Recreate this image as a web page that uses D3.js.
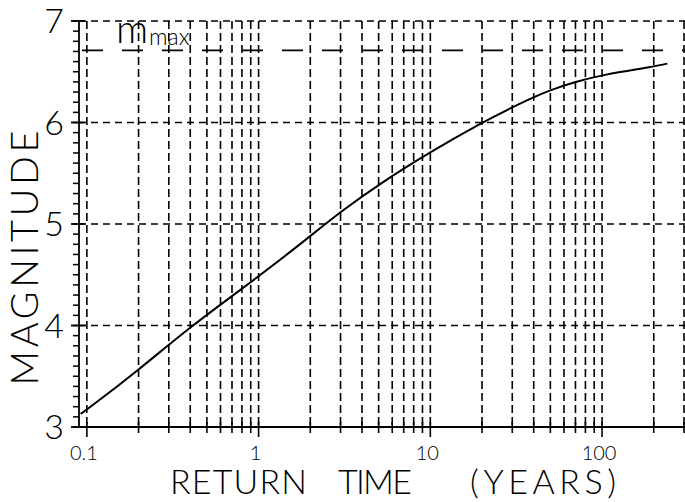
<!DOCTYPE html>
<html>
<head>
<meta charset="utf-8">
<script src="https://cdn.jsdelivr.net/npm/d3@7"></script>
<style>
  body { margin: 0; background: #fff; }
  svg { display: block; }
  text { font-family: "Lato", "DejaVu Sans", sans-serif; font-weight: 300; fill: #000; }
</style>
</head>
<body>
<svg id="chart" width="685" height="502"></svg>
<script>
// return time (years) vs magnitude
var returnTime = [0.092, 0.1, 0.2, 0.4, 1, 2, 3, 5, 10, 20, 30, 40, 50, 70, 100, 200, 240];
var magnitude  = [3.13, 3.17, 3.56, 3.99, 4.48, 4.88, 5.12, 5.39, 5.71, 6.00, 6.15, 6.25, 6.32, 6.40, 6.47, 6.55, 6.58];

var mMax = 6.71;

// grid / tick positions
var xGrid = [0.1, 0.2, 0.3, 0.4, 0.5, 0.6, 0.7, 0.8, 0.9,
             1, 2, 3, 4, 5, 6, 7, 8, 9,
             10, 20, 30, 40, 50, 60, 70, 80, 90,
             100, 200, 300];
var xMajor = [0.1, 1, 10, 100];
var xLabels = ["0.1", "1", "10", "100"];
var yMajor = [3, 4, 5, 6, 7];
var yLabels = ["3", "4", "5", "6", "7"];
var yMinor = d3.range(30, 71).map(function (d) { return d / 10; });

var svg = d3.select("#chart");

var x = d3.scaleLog().domain([0.09, 300]).range([79, 684]);
var y = d3.scaleLinear().domain([3, 7]).range([427, 21]);

// vertical dashed grid
svg.append("g").selectAll("line")
    .data(xGrid)
    .enter().append("line")
    .attr("x1", d => x(d)).attr("x2", d => x(d))
    .attr("y1", y(7)).attr("y2", y(3))
    .attr("stroke", "#000")
    .attr("stroke-width", 1.6)
    .attr("stroke-dasharray", "8,4");

// horizontal dashed grid
svg.append("g").selectAll("line")
    .data(yMajor.slice(1))
    .enter().append("line")
    .attr("x1", x(0.09)).attr("x2", 685)
    .attr("y1", d => y(d)).attr("y2", d => y(d))
    .attr("stroke", "#000")
    .attr("stroke-width", 1.6)
    .attr("stroke-dasharray", "7,5");

// m_max line
svg.append("line")
    .attr("x1", 82).attr("x2", 685)
    .attr("y1", y(mMax)).attr("y2", y(mMax))
    .attr("stroke", "#000")
    .attr("stroke-width", 1.8)
    .attr("stroke-dasharray", "21,19");

svg.append("text")
    .attr("x", 116).attr("y", 43)
    .style("font-size", "40px")
    .text("m");
svg.append("text")
    .attr("x", 149).attr("y", 45)
    .style("font-size", "23px")
    .text("max");

// axes lines
svg.append("line")
    .attr("x1", x(0.09)).attr("x2", x(0.09))
    .attr("y1", y(7)).attr("y2", y(3))
    .attr("stroke", "#000").attr("stroke-width", 1.8);
svg.append("line")
    .attr("x1", x(0.09)).attr("x2", 685)
    .attr("y1", y(3)).attr("y2", y(3))
    .attr("stroke", "#000").attr("stroke-width", 1.8);

// y ticks
svg.append("g").selectAll("line")
    .data(yMinor)
    .enter().append("line")
    .attr("x1", x(0.09) - 6).attr("x2", x(0.09))
    .attr("y1", d => y(d)).attr("y2", d => y(d))
    .attr("stroke", "#000").attr("stroke-width", 1.5);
svg.append("g").selectAll("line")
    .data(yMajor)
    .enter().append("line")
    .attr("x1", x(0.09) - 8).attr("x2", x(0.09) + 6)
    .attr("y1", d => y(d)).attr("y2", d => y(d))
    .attr("stroke", "#000").attr("stroke-width", 1.8);
svg.append("g").selectAll("text")
    .data(yMajor)
    .enter().append("text")
    .attr("x", 64)
    .attr("y", d => y(d) + 12)
    .attr("text-anchor", "end")
    .style("font-size", "34px")
    .text((d, i) => yLabels[i]);

// x ticks
svg.append("g").selectAll("line")
    .data(xGrid)
    .enter().append("line")
    .attr("x1", d => x(d)).attr("x2", d => x(d))
    .attr("y1", y(3) - 5)
    .attr("y2", d => xMajor.indexOf(d) >= 0 ? y(3) + 10 : y(3) + 6)
    .attr("stroke", "#000").attr("stroke-width", 1.6);
svg.append("g").selectAll("text")
    .data(xMajor)
    .enter().append("text")
    .attr("x", d => x(d) - 3)
    .attr("y", 460)
    .attr("text-anchor", "middle")
    .style("font-size", "20px")
    .text((d, i) => xLabels[i]);

// axis titles
svg.append("text")
    .attr("x", 170).attr("y", 494)
    .attr("textLength", 137)
    .style("font-size", "34px")
    .text("RETURN");
svg.append("text")
    .attr("x", 338).attr("y", 494)
    .attr("textLength", 74)
    .style("font-size", "34px")
    .text("TIME");
svg.append("text")
    .attr("x", 470).attr("y", 494)
    .attr("textLength", 146)
    .style("font-size", "34px")
    .text("(YEARS)");
svg.append("text")
    .attr("transform", "translate(38,258) rotate(-90)")
    .attr("text-anchor", "middle")
    .attr("textLength", 255)
    .style("font-size", "38px")
    .text("MAGNITUDE");

// the curve
var pts = returnTime.map((t, i) => [t, magnitude[i]]);
var line = d3.line()
    .x(d => x(d[0]))
    .y(d => y(d[1]))
    .curve(d3.curveBasis);
svg.append("path")
    .datum(pts)
    .attr("d", line)
    .attr("fill", "none")
    .attr("stroke", "#000")
    .attr("stroke-width", 2);
</script>
</body>
</html>
